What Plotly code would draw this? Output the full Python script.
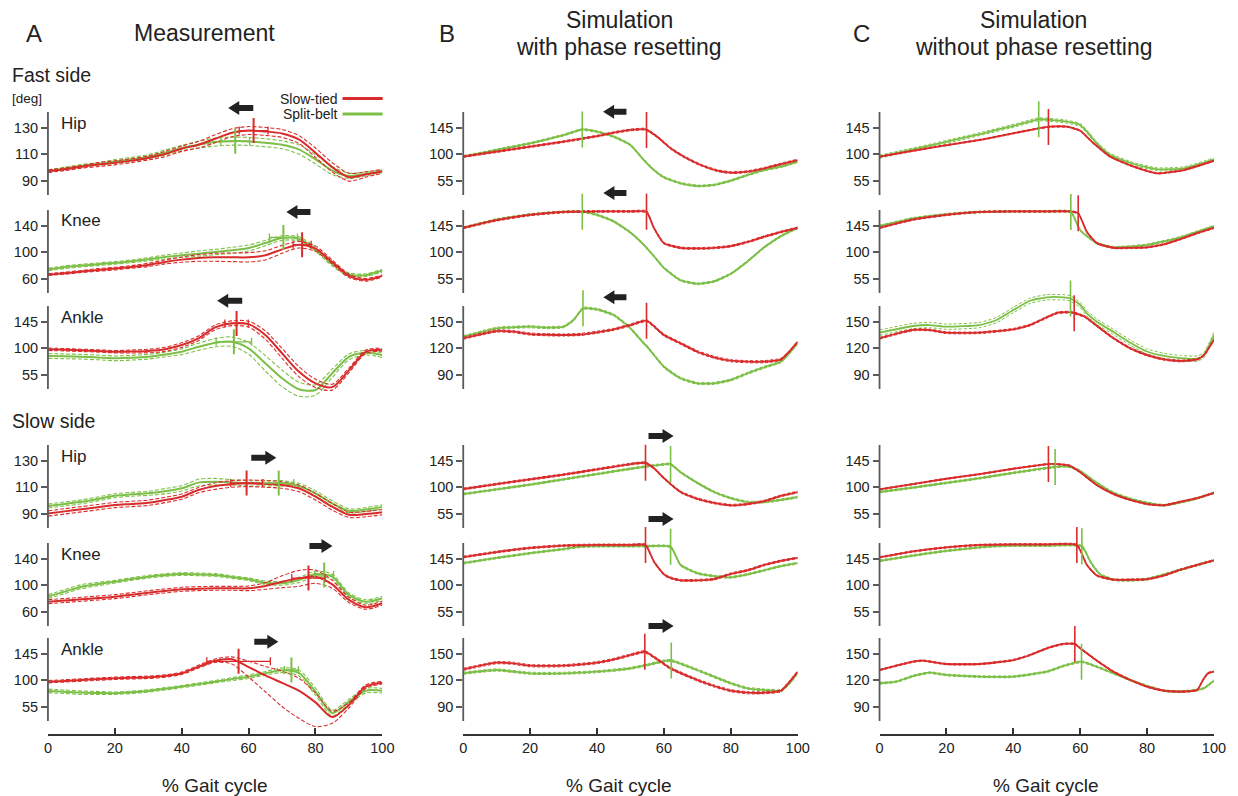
import numpy as np
import plotly.graph_objects as go

# ======================= DATA =======================
PCT = [0, 5, 10, 15, 20, 25, 30, 35, 40, 45, 50, 55, 60, 65, 70, 75, 80, 85, 90, 95, 100]

# ---- Column A: Measurement (mean and SD) ----
A_FAST_HIP_RED = [97, 98.5, 100.3, 102, 103.3, 105, 107, 110, 114, 117, 121.5, 126, 127.7, 127, 125.5, 121, 111, 100, 92.5, 94.5, 97]
A_FAST_HIP_RED_SD = [1, 1, 1, 1.5, 1.5, 1.5, 1.5, 2, 2, 2.5, 3, 3, 3, 3, 3, 3, 3.5, 3.5, 3, 2, 1.5]
A_FAST_HIP_GREEN = [97, 99, 101, 102.5, 104.3, 106, 108, 111, 114.5, 117, 119, 119.7, 119.5, 118.5, 117, 113.5, 106, 97.5, 93.5, 95, 97]
A_FAST_HIP_GREEN_SD = [1, 1, 1, 1, 1.5, 1.5, 1.5, 2, 2, 2.5, 3, 3, 3, 3, 3, 3.5, 3.5, 3, 2, 1.5, 1]

A_FAST_KNEE_RED = [66, 68, 70.5, 73, 75, 77.5, 80.5, 85, 88.5, 91, 92, 92, 92, 95, 104, 111, 105, 85, 64, 58, 64]
A_FAST_KNEE_RED_SD = [1.5, 1.5, 1.5, 2, 2, 2, 2.5, 3, 4, 5, 6, 6.5, 7, 7, 6, 5, 4, 3, 2.5, 2, 1.5]
A_FAST_KNEE_GREEN = [73.5, 77, 79.5, 81.5, 83.5, 86, 89, 92.5, 95, 97.5, 100, 102.5, 106, 113.5, 121, 120, 104, 82, 66, 65, 72]
A_FAST_KNEE_GREEN_SD = [2, 2, 2, 2, 2, 2, 2.5, 3, 3.5, 4, 4, 4.5, 4.5, 4, 3.5, 3, 3, 3, 2.5, 2, 2]

A_FAST_ANKLE_RED = [97.8, 97, 96, 95, 93.7, 94, 94.9, 97.8, 105, 116.5, 135, 142, 140.5, 122, 91, 60, 40, 33.5, 62, 93.5, 97]
A_FAST_ANKLE_RED_SD = [2, 2, 2, 2, 2, 2.5, 3, 3.5, 4, 4, 4, 4, 5, 7, 8.5, 8.5, 7, 5, 4, 3, 2.5]
A_FAST_ANKLE_GREEN = [86.4, 85.8, 85.2, 84, 82.5, 83.5, 85.2, 89, 93.7, 102, 109, 110.7, 99.5, 74, 48.5, 30, 28.7, 57, 85, 92, 88]
A_FAST_ANKLE_GREEN_SD = [4, 4, 4, 4, 4, 4, 4, 4, 5, 6, 7, 8, 10, 13, 14, 12, 9, 7, 5, 4, 4]

A_SLOW_HIP_RED = [90, 91.6, 93.2, 94.8, 96.4, 97.2, 98.1, 100.2, 102.7, 107.7, 110.7, 112.3, 112.8, 112.3, 111.5, 109, 102.7, 95.1, 89, 89.6, 91]
A_SLOW_HIP_RED_SD = [2, 2, 2, 2, 2, 2, 2, 2, 2, 2, 2.5, 2.5, 2.5, 2.5, 2.5, 2.5, 2.5, 2.5, 2, 2, 2]
A_SLOW_HIP_GREEN = [95.6, 97.2, 98.8, 101, 103.4, 104.5, 105.2, 106.8, 109, 113.3, 114, 113.5, 112.8, 112.8, 112.8, 110.8, 105.2, 97.6, 92, 93, 95]
A_SLOW_HIP_GREEN_SD = [1.5, 1.5, 1.5, 1.5, 1.5, 1.5, 1.5, 2, 2, 2.5, 2.5, 2, 2, 2, 2, 2, 2, 2, 1.5, 1.5, 1.5]

A_SLOW_KNEE_RED = [74.8, 76.6, 78.4, 80.4, 82.4, 85.4, 88.4, 91, 93.5, 94.5, 95, 95, 95, 98.5, 105, 110, 112.5, 101, 77.5, 66.5, 72.5]
A_SLOW_KNEE_RED_SD = [3, 3, 3, 3, 3, 3, 3, 3, 3, 3, 3, 3, 3.5, 5, 9, 12, 10, 6, 4, 3, 3]
A_SLOW_KNEE_GREEN = [82.4, 90, 97.5, 101.5, 105, 109, 112.5, 115, 116.6, 116, 115.1, 112, 108.6, 103.5, 102.6, 107.6, 116.6, 112.5, 85, 74.8, 80]
A_SLOW_KNEE_GREEN_SD = [3, 3, 3, 2.5, 2, 2, 2, 2, 2, 2, 2, 2, 2, 2.5, 3, 4, 4, 4, 3, 3, 3]

A_SLOW_ANKLE_RED = [97.1, 98.5, 100, 101.5, 102.9, 103.8, 104.6, 106.8, 111.4, 122.6, 132.8, 135.2, 122, 108, 95, 82, 62, 37, 57.5, 88.6, 95.4]
A_SLOW_ANKLE_RED_SD_UP = [2, 2, 2, 2, 2, 2, 2, 2, 2, 2.5, 3, 4, 10, 15, 20, 21, 16, 10, 4, 3, 2]
A_SLOW_ANKLE_RED_SD_DN = [2, 2, 2, 2, 2, 2, 2, 2, 2, 2.5, 3, 8, 17, 28, 40, 47, 41, 10.5, 5, 3, 2]
A_SLOW_ANKLE_GREEN = [81.5, 80, 78.6, 78, 77.6, 79, 81.5, 85, 88.8, 93, 97.2, 101.5, 105.6, 111.3, 116.5, 112, 80.2, 44, 63.2, 81.8, 81.8]
A_SLOW_ANKLE_GREEN_SD = [3, 3, 3, 2.5, 2, 2, 2, 2, 2, 2, 2, 2.5, 3, 3, 4, 5, 6, 5, 4, 4, 4]

# event markers for measurement: [% gait, angle, SD of timing]
A_MARK_RED = [[61.5, 127.7, 4.3], [76, 111, 2.7], [56.4, 141.5, 3.5],
              [59.4, 113, 4.75], [77.9, 110.5, 5], [57, 131.7, 9.5]]
A_MARK_GREEN = [[56, 119.7, 4.3], [70.4, 122, 4.2], [55.6, 110.5, 5.3],
                [69, 113, 4.5], [82.6, 115, 2.8], [72.8, 117, 2.1]]

# ---- Column B: Simulation with phase resetting ----
B_FAST_HIP_RED_X = [0, 10, 20, 30, 40, 45, 50, 54.5, 58, 62, 66, 71, 76, 80, 85, 90, 95, 100]
B_FAST_HIP_RED = [95.7, 104, 112.5, 120.9, 130.4, 136.2, 140.8, 142, 129.4, 109.7, 95.4, 81.3, 71.7, 68.3, 70, 75.7, 83, 89.8]
B_FAST_HIP_GREEN_X = [0, 10, 20, 30, 35.6, 40, 45, 50, 54, 57, 60, 65, 70, 75, 80, 85, 90, 95, 100]
B_FAST_HIP_GREEN = [95.7, 107, 118.2, 132.1, 141.6, 137.9, 129.4, 115.3, 89.8, 72.8, 60.4, 50.3, 45.7, 47.4, 54.7, 64.3, 72.8, 78.4, 87]

B_FAST_KNEE_RED_X = [0, 10, 20, 30, 40, 50, 54.8, 57, 60, 65, 70, 75, 80, 85, 90, 95, 100]
B_FAST_KNEE_RED = [141, 154, 163, 168, 169, 169, 168.5, 141, 115, 107, 106, 107, 110, 117, 126, 134, 141]
B_FAST_KNEE_GREEN_X = [0, 10, 20, 30, 35.6, 40, 45, 50, 54, 57, 60, 65, 70, 75, 80, 85, 90, 95, 100]
B_FAST_KNEE_GREEN = [141, 155, 163.5, 168, 168.5, 163, 152, 133, 112, 93, 73, 52, 46, 50, 63, 84, 108, 127, 141]

B_FAST_ANKLE_RED_X = [0, 10, 15, 20, 25, 30, 35, 40, 45, 50, 54.8, 60, 65, 70, 75, 80, 85, 90, 95, 97, 100]
B_FAST_ANKLE_RED = [131, 139.2, 138.5, 135.8, 135, 134.7, 135.3, 137.8, 141.1, 146, 150.9, 134.7, 125.3, 115.8, 109.5, 105.6, 104.5, 104.5, 107.2, 114, 127.1]
B_FAST_ANKLE_GREEN_X = [0, 10, 15, 20, 25, 30, 33, 35.8, 40, 45, 50, 54, 55, 60, 65, 70, 75, 80, 85, 90, 95, 97, 100]
B_FAST_ANKLE_GREEN = [132.8, 142.3, 143.5, 144.1, 143, 144.1, 151.7, 164.9, 163.8, 157.4, 142.3, 125.3, 121.5, 98.8, 85.7, 80, 80, 83.8, 91.4, 98.2, 104.5, 112, 125.3]

B_SLOW_HIP_RED_X = [0, 10, 20, 30, 40, 50, 54.5, 57, 60, 65, 70, 75, 80, 85, 90, 95, 100]
B_SLOW_HIP_RED = [96.6, 105, 113, 121, 130, 139, 141, 132, 115, 91.5, 80, 73, 69, 71, 76, 85, 91.5]
B_SLOW_HIP_GREEN_X = [0, 10, 20, 30, 40, 50, 55, 60, 62, 65, 70, 75, 80, 85, 90, 95, 100]
B_SLOW_HIP_GREEN = [88, 96, 104, 113, 122, 131, 135, 138.5, 139, 125, 107, 91.5, 81, 74.5, 74.5, 78, 83]

B_SLOW_KNEE_RED_X = [0, 10, 20, 30, 40, 50, 54.5, 57, 60, 62, 65, 70, 75, 80, 85, 90, 95, 100]
B_SLOW_KNEE_RED = [147.5, 156, 163, 167, 168, 168, 168, 140, 118, 112, 108, 108, 110, 119, 125, 134, 141, 146]
B_SLOW_KNEE_GREEN_X = [0, 10, 20, 30, 35, 40, 50, 55, 62, 65, 70, 75, 80, 85, 90, 95, 100]
B_SLOW_KNEE_GREEN = [137, 146, 154, 161, 165, 166, 166, 166, 165, 134, 120, 115, 113, 118, 125, 132, 137]

B_SLOW_ANKLE_RED_X = [0, 10, 15, 20, 30, 40, 45, 50, 54.3, 58, 62, 70, 75, 80, 85, 90, 95, 98, 100]
B_SLOW_ANKLE_RED = [132.1, 139.6, 138.9, 136.2, 136.2, 139.6, 143.4, 148.3, 152, 143.4, 133.2, 120, 113.2, 107.9, 105.6, 105.6, 107.9, 120, 129.4]
B_SLOW_ANKLE_GREEN_X = [0, 10, 20, 30, 40, 50, 55, 60, 62.2, 70, 80, 85, 90, 95, 98, 100]
B_SLOW_ANKLE_GREEN = [127.6, 131.3, 127.6, 127.6, 129.4, 133.2, 137, 141.5, 142, 131.3, 116.3, 110.6, 108.7, 107.9, 118.1, 128.3]

B_MARK_RED_X = [54.8, 54.8, 54.8, 54.5, 54.5, 54.3]
B_MARK_GREEN_X = [35.6, 35.6, 35.8, 62, 62, 62.2]
B_SD_RED = [1.5, 1.5, 1.2, 1.5, 1.5, 1.2]
B_SD_GREEN = [1.5, 1.5, 1.2, 1.5, 1.5, 1.2]

# ---- Column C: Simulation without phase resetting ----
C_FAST_HIP_RED_X = [0, 16, 31, 46, 51, 56, 60, 64, 69, 76, 83, 91, 100]
C_FAST_HIP_RED = [95.4, 111.4, 125, 141.9, 146.4, 146.4, 139.6, 118.2, 95.4, 78.4, 67.2, 72.8, 88.6]
C_FAST_HIP_GREEN_X = [0, 16, 31, 41, 47.6, 56, 60, 62, 65, 69, 76, 83, 91, 100]
C_FAST_HIP_GREEN = [95.4, 115.3, 135.2, 149.2, 158.9, 154.9, 149.2, 137.9, 118.2, 98.3, 83, 74, 75.7, 91]

C_FAST_KNEE_RED_X = [0, 10, 20, 25, 30, 40, 50, 57, 59.4, 62, 65, 70, 75, 80, 85, 90, 95, 100]
C_FAST_KNEE_RED = [141, 155, 163, 166, 168, 169, 169, 169, 166, 134, 115, 107, 107, 108, 113, 122, 132, 141]
C_FAST_KNEE_GREEN_X = [0, 10, 20, 30, 40, 50, 57.2, 60, 65, 70, 80, 90, 100]
C_FAST_KNEE_GREEN = [144, 157, 164, 168, 169, 169, 168, 137, 115, 108, 112, 125, 144]

C_FAST_ANKLE_RED_X = [0, 10, 15, 20, 30, 40, 45, 50.4, 53.4, 57.4, 61.4, 65.3, 70, 75, 80, 85, 90, 95, 97, 100]
C_FAST_ANKLE_RED = [131, 140.4, 140.4, 137.3, 137.3, 141.2, 146, 155.4, 160, 160.4, 155.4, 144.1, 131, 119.6, 112, 107.2, 105.3, 107.2, 112, 129.1]
C_FAST_ANKLE_GREEN_X = [0, 10, 15, 20, 30, 35, 40, 45, 50, 55, 57, 60, 62, 65, 70, 75, 80, 85, 90, 95, 97, 100]
C_FAST_ANKLE_GREEN = [137.3, 144.9, 146, 144.1, 146, 151.7, 163, 173.5, 177.4, 177.4, 176.3, 168.7, 159.3, 149.8, 138, 126, 116, 111, 108.5, 108, 112, 134.7]

C_SLOW_HIP_RED_X = [0, 10, 20, 30, 40, 50.5, 55, 57, 60, 65, 70, 75, 80, 85, 90, 95, 100]
C_SLOW_HIP_RED = [96, 105, 114, 122, 131, 139, 138, 136, 125, 103, 88, 78, 71, 69, 75, 81, 90]
C_SLOW_HIP_GREEN_X = [0, 10, 20, 30, 40, 52.5, 55, 57, 60, 65, 70, 75, 80, 85, 90, 95, 100]
C_SLOW_HIP_GREEN = [91.5, 99, 107, 115, 124, 134, 135, 134, 127, 107, 90, 80, 73, 69, 74, 81, 90]

C_SLOW_KNEE_RED_X = [0, 10, 20, 30, 40, 50, 59, 62, 65, 70, 75, 80, 85, 90, 95, 100]
C_SLOW_KNEE_RED = [147, 157, 164, 168, 169, 169, 168, 134, 116, 109, 109, 110, 116, 126, 134, 142]
C_SLOW_KNEE_GREEN_X = [0, 10, 20, 30, 35, 40, 50, 60.5, 63, 66, 70, 75, 80, 90, 95, 100]
C_SLOW_KNEE_GREEN = [141, 150, 158, 164, 166, 167, 167, 166, 140, 118, 109, 108, 110, 126, 134, 142]

C_SLOW_ANKLE_RED_X = [0, 10, 13, 20, 30, 40, 45, 50, 55, 58.4, 60, 65, 70, 75, 80, 85, 90, 95, 96.7, 98.2, 100]
C_SLOW_ANKLE_RED = [131.3, 140.7, 141.9, 138.1, 138.1, 142.6, 148.3, 155.9, 160.8, 160.8, 155.9, 141.9, 129.4, 120, 112.4, 107.9, 106.8, 108.7, 120, 127.6, 129.4]
C_SLOW_ANKLE_GREEN_X = [0, 5, 10, 15, 20, 30, 40, 50, 55, 60.4, 65, 70, 75, 80, 85, 90, 95, 97, 100]
C_SLOW_ANKLE_GREEN = [116.3, 118.1, 124.5, 128.3, 125.7, 123.8, 123.8, 129.4, 135.9, 140.7, 135, 127.6, 120, 113.2, 107.9, 106.8, 108.7, 110.6, 119.2]

C_MARK_RED_X = [50.5, 59.4, 58.2, 50.5, 59, 58.4]
C_MARK_GREEN_X = [47.6, 57.2, 57.1, 52.5, 60.5, 60.4]
C_SD_RED = [1.0, 1.2, 1.0, 1.0, 1.2, 0.8]
C_SD_GREEN = [2.5, 1.5, 3.0, 1.5, 1.5, 1.0]

# tick labels
TICKS_A = [[90, 110, 130], [60, 100, 140], [55, 100, 145], [90, 110, 130], [60, 100, 140], [55, 100, 145]]
TICKS_BC = [[55, 100, 145], [55, 100, 145], [90, 120, 150], [55, 100, 145], [55, 100, 145], [90, 120, 150]]
XTICKS = [0, 20, 40, 60, 80, 100]
JOINTS = ["Hip", "Knee", "Ankle", "Hip", "Knee", "Ankle"]

# ======================= STYLE / LAYOUT =======================
W, H = 1238, 796
FONT = "Liberation Sans, Arial, Helvetica, sans-serif"
RED = "#d92b2b"
GREEN = "#7cbf46"
AXC = "#5a5a5a"
TXT = "#222222"

# horizontal calibration of the rendered page (observed: x_rendered = X_SCALE*x + X_OFF)
X_SCALE = 0.984
X_OFF = 5.5


def PXX(x):
    """page pixel (target) -> paper fraction in x"""
    return (x - X_OFF) / (W * X_SCALE)


def PXY(y):
    return 1 - y / H


COL_X = [(49.3, 382.7), (463.3, 796.7), (878.3, 1211.7)]
ROW_T = [112, 210, 306, 445, 543, 638]
AXIS_H = 83
TICK_OFF = 15.5
TICK_GAP = 26.5
EXTRA_TOP = 34
EXTRA_BOT = 10
XAXIS_Y = 735
MARK_HALF_A = 12.5
MARK_HALF_BC = 18

A_SERIES = [
    (A_FAST_HIP_RED, A_FAST_HIP_RED_SD, A_FAST_HIP_RED_SD, A_FAST_HIP_GREEN, A_FAST_HIP_GREEN_SD),
    (A_FAST_KNEE_RED, A_FAST_KNEE_RED_SD, A_FAST_KNEE_RED_SD, A_FAST_KNEE_GREEN, A_FAST_KNEE_GREEN_SD),
    (A_FAST_ANKLE_RED, A_FAST_ANKLE_RED_SD, A_FAST_ANKLE_RED_SD, A_FAST_ANKLE_GREEN, A_FAST_ANKLE_GREEN_SD),
    (A_SLOW_HIP_RED, A_SLOW_HIP_RED_SD, A_SLOW_HIP_RED_SD, A_SLOW_HIP_GREEN, A_SLOW_HIP_GREEN_SD),
    (A_SLOW_KNEE_RED, A_SLOW_KNEE_RED_SD, A_SLOW_KNEE_RED_SD, A_SLOW_KNEE_GREEN, A_SLOW_KNEE_GREEN_SD),
    (A_SLOW_ANKLE_RED, A_SLOW_ANKLE_RED_SD_UP, A_SLOW_ANKLE_RED_SD_DN, A_SLOW_ANKLE_GREEN, A_SLOW_ANKLE_GREEN_SD),
]
B_SERIES = [
    (B_FAST_HIP_RED_X, B_FAST_HIP_RED, B_FAST_HIP_GREEN_X, B_FAST_HIP_GREEN),
    (B_FAST_KNEE_RED_X, B_FAST_KNEE_RED, B_FAST_KNEE_GREEN_X, B_FAST_KNEE_GREEN),
    (B_FAST_ANKLE_RED_X, B_FAST_ANKLE_RED, B_FAST_ANKLE_GREEN_X, B_FAST_ANKLE_GREEN),
    (B_SLOW_HIP_RED_X, B_SLOW_HIP_RED, B_SLOW_HIP_GREEN_X, B_SLOW_HIP_GREEN),
    (B_SLOW_KNEE_RED_X, B_SLOW_KNEE_RED, B_SLOW_KNEE_GREEN_X, B_SLOW_KNEE_GREEN),
    (B_SLOW_ANKLE_RED_X, B_SLOW_ANKLE_RED, B_SLOW_ANKLE_GREEN_X, B_SLOW_ANKLE_GREEN),
]
C_SERIES = [
    (C_FAST_HIP_RED_X, C_FAST_HIP_RED, C_FAST_HIP_GREEN_X, C_FAST_HIP_GREEN),
    (C_FAST_KNEE_RED_X, C_FAST_KNEE_RED, C_FAST_KNEE_GREEN_X, C_FAST_KNEE_GREEN),
    (C_FAST_ANKLE_RED_X, C_FAST_ANKLE_RED, C_FAST_ANKLE_GREEN_X, C_FAST_ANKLE_GREEN),
    (C_SLOW_HIP_RED_X, C_SLOW_HIP_RED, C_SLOW_HIP_GREEN_X, C_SLOW_HIP_GREEN),
    (C_SLOW_KNEE_RED_X, C_SLOW_KNEE_RED, C_SLOW_KNEE_GREEN_X, C_SLOW_KNEE_GREEN),
    (C_SLOW_ANKLE_RED_X, C_SLOW_ANKLE_RED, C_SLOW_ANKLE_GREEN_X, C_SLOW_ANKLE_GREEN),
]

# arrows: (tail x, tip x, y) in page pixels
ARROWS = [
    (254, 229, 108), (311, 287, 212), (243, 218, 300.7),
    (252, 277, 457.7), (310, 333, 546), (255, 279, 641.7),
    (626, 602.7, 111.7), (626, 603, 193), (626, 603, 297.3),
    (648, 673, 436), (648, 673, 519), (648, 673, 626),
]

fig = go.Figure()
layout = dict(width=W, height=H, margin=dict(l=0, r=0, t=0, b=0),
              paper_bgcolor="white", plot_bgcolor="rgba(0,0,0,0)",
              showlegend=False, font=dict(family=FONT, color=TXT))
shapes = []
annotations = []


def sfx(n):
    return "" if n == 1 else str(n)


def line_trace(s, xs, ys, color, width, dash=None, smoothing=0.8):
    return go.Scatter(x=xs, y=ys, mode="lines", hoverinfo="skip",
                      line=dict(color=color, width=width, dash=dash,
                                shape="spline", smoothing=smoothing),
                      xaxis="x" + s, yaxis="y" + s)


for c in range(3):
    for r in range(6):
        n = r * 3 + c + 1
        s = sfx(n)
        T = ROW_T[r]
        ticks = TICKS_A[r] if c == 0 else TICKS_BC[r]
        lo, mid, hi = ticks
        dpp = (mid - lo) / TICK_GAP  # data units per pixel

        def val(p, T=T, hi=hi, dpp=dpp):
            return hi - (p - (T + TICK_OFF)) * dpp

        x0, x1 = COL_X[c]
        xa = dict(domain=[PXX(x0), PXX(x1)], range=[0, 100], anchor="y" + s,
                  visible=False, fixedrange=True)
        if r == 5:
            xa.update(visible=True, anchor="free", position=PXY(XAXIS_Y),
                      showline=True, linecolor="#333", linewidth=1.5,
                      ticks="inside", ticklen=6, tickwidth=1.5, tickcolor="#333",
                      tickvals=XTICKS, showgrid=False, zeroline=False,
                      tickfont=dict(size=14.5, color=TXT, family=FONT))
        layout["xaxis" + s] = xa
        layout["yaxis" + s] = dict(
            domain=[PXY(T + AXIS_H + EXTRA_BOT), PXY(T - EXTRA_TOP)],
            range=[val(T + AXIS_H + EXTRA_BOT), val(T - EXTRA_TOP)],
            anchor="x" + s, tickvals=ticks, ticks="outside", ticklen=6,
            tickwidth=1.5, tickcolor=AXC, showline=False, showgrid=False,
            zeroline=False, fixedrange=True,
            tickfont=dict(size=14.5, color=TXT, family=FONT))
        shapes.append(dict(type="line", xref="x" + s + " domain", yref="y" + s,
                           x0=0, x1=0, y0=val(T + AXIS_H), y1=val(T),
                           line=dict(color=AXC, width=1.8)))

        if c == 0:
            red, rup, rdn, green, gsd = A_SERIES[r]
            red = np.array(red, float); green = np.array(green, float)
            rup = np.array(rup, float); rdn = np.array(rdn, float); gsd = np.array(gsd, float)
            for arr in (green + gsd, green - gsd):
                fig.add_trace(line_trace(s, PCT, arr, GREEN, 1.1, "4px,2px"))
            fig.add_trace(line_trace(s, PCT, green, GREEN, 2))
            for arr in (red + rup, red - rdn):
                fig.add_trace(line_trace(s, PCT, arr, RED, 1.1, "4px,2px"))
            fig.add_trace(line_trace(s, PCT, red, RED, 2))
            for mk, col in ((A_MARK_GREEN[r], GREEN), (A_MARK_RED[r], RED)):
                mx, my, msd = mk
                fig.add_trace(go.Scatter(
                    x=[mx], y=[my], mode="markers", hoverinfo="skip",
                    marker=dict(size=0.1, color=col),
                    error_x=dict(type="data", array=[msd], width=4, thickness=1.3, color=col),
                    error_y=dict(type="constant", value=MARK_HALF_A * dpp, width=0, thickness=2, color=col),
                    xaxis="x" + s, yaxis="y" + s))
        else:
            if c == 1:
                rx, ry, gx, gy = B_SERIES[r]
                mrx, mgx = B_MARK_RED_X[r], B_MARK_GREEN_X[r]
                rsd, gsd = B_SD_RED[r], B_SD_GREEN[r]
            else:
                rx, ry, gx, gy = C_SERIES[r]
                mrx, mgx = C_MARK_RED_X[r], C_MARK_GREEN_X[r]
                rsd, gsd = C_SD_RED[r], C_SD_GREEN[r]
            ry = np.array(ry, float); gy = np.array(gy, float)
            for arr in (gy + gsd, gy - gsd):
                fig.add_trace(line_trace(s, gx, arr, GREEN, 1.0, "3px,2px", 0.5))
            fig.add_trace(line_trace(s, gx, gy, GREEN, 1.8, None, 0.5))
            for arr in (ry + rsd, ry - rsd):
                fig.add_trace(line_trace(s, rx, arr, RED, 1.0, "3px,2px", 0.5))
            fig.add_trace(line_trace(s, rx, ry, RED, 1.8, None, 0.5))
            for mxv, xs_, ys_, col in ((mgx, gx, gy, GREEN), (mrx, rx, ry, RED)):
                my = float(np.interp(mxv, xs_, ys_))
                fig.add_trace(go.Scatter(
                    x=[mxv], y=[my], mode="markers", hoverinfo="skip",
                    marker=dict(size=0.1, color=col),
                    error_y=dict(type="constant", value=MARK_HALF_BC * dpp, width=0, thickness=1.6, color=col),
                    xaxis="x" + s, yaxis="y" + s))

        if c == 0:
            annotations.append(dict(text=JOINTS[r], x=PXX(60), y=PXY(T + 11),
                                    xref="paper", yref="paper", xanchor="left", yanchor="middle",
                                    showarrow=False, font=dict(size=17, color=TXT, family=FONT)))


# arrows as filled polygons (paper coordinates)
def arrow_path(xt, xh, y):
    d = 1 if xh > xt else -1
    neck = xh - d * 11
    pts = [(xt, y - 3), (neck, y - 3), (neck, y - 7), (xh, y), (neck, y + 7), (neck, y + 3), (xt, y + 3)]
    return "M " + " L ".join(f"{PXX(px):.5f},{PXY(py):.5f}" for px, py in pts) + " Z"


for xt, xh, y in ARROWS:
    shapes.append(dict(type="path", xref="paper", yref="paper", path=arrow_path(xt, xh, y),
                       fillcolor="#222222", line=dict(width=0)))

# legend
for label, col, yy in (("Slow-tied", RED, 98.5), ("Split-belt", GREEN, 114)):
    shapes.append(dict(type="line", xref="paper", yref="paper", x0=PXX(343), x1=PXX(383),
                       y0=PXY(yy), y1=PXY(yy), line=dict(color=col, width=3)))
    annotations.append(dict(text=label, x=PXX(340), y=PXY(yy), xref="paper", yref="paper",
                            xanchor="right", yanchor="middle", showarrow=False,
                            font=dict(size=14, color=TXT, family=FONT)))


def ann(text, x, y, size, xanchor="center"):
    annotations.append(dict(text=text, x=PXX(x), y=PXY(y), xref="paper", yref="paper",
                            xanchor=xanchor, yanchor="middle", showarrow=False,
                            font=dict(size=size, color=TXT, family=FONT)))


ann("A", 35, 33, 24)
ann("Measurement", 205, 33, 23)
ann("B", 447, 33, 24)
ann("Simulation", 619, 20, 23)
ann("with phase resetting", 619, 47, 23)
ann("C", 860, 33, 24)
ann("Simulation", 1032, 20, 23)
ann("without phase resetting", 1032, 47, 23)
ann("Fast side", 11, 75, 19.5, "left")
ann("[deg]", 11, 98, 13.5, "left")
ann("Slow side", 11, 421, 19.5, "left")
for cx in (216, 619, 1044):
    ann("% Gait cycle", cx, 785, 19)

layout["shapes"] = shapes
layout["annotations"] = annotations
fig.update_layout(**layout)
fig.write_html("out.html")
